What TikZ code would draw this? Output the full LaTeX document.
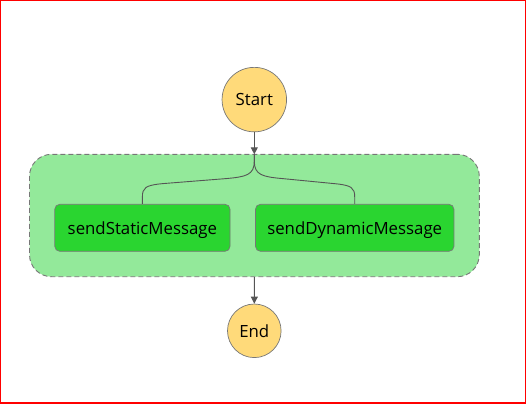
\documentclass[tikz,border=0pt]{standalone}
\usepackage{fontspec}
\setmainfont{Open Sans}
\usetikzlibrary{arrows.meta}
\definecolor{startfill}{HTML}{FFDA7A}
\definecolor{groupfill}{HTML}{93E99A}
\definecolor{taskfill}{HTML}{2AD530}
\definecolor{edgegray}{HTML}{555555}
\definecolor{bordergray}{HTML}{777777}
\tikzset{
  terminal/.style={circle, draw=bordergray, line width=0.7pt, fill=startfill, inner sep=0pt, font=\fontsize{16.8}{20}\selectfont},
  taskbox/.style={rectangle, rounded corners=5pt, draw=bordergray, line width=0.7pt, fill=taskfill, inner sep=0pt, text depth=0pt, minimum height=47pt, font=\fontsize{16.8}{20}\selectfont},
  groupbox/.style={rectangle, rounded corners=22pt, draw=bordergray, dash pattern=on 5pt off 3pt, line width=0.9pt, fill=groupfill, inner sep=0pt},
  flow/.style={draw=edgegray, line width=0.9pt},
  flowarrow/.style={flow, -{Triangle[length=7pt,width=7pt]}}
}
\begin{document}
\begin{tikzpicture}[x=1pt,y=-1pt]
\useasboundingbox (0,0) rectangle (527,404);
\draw[red, line width=1.4pt] (0.7,0.7) rectangle (525.7,403);
\node[groupbox, minimum width=449.8pt, minimum height=122.4pt] (grp) at (254.4,215.5) {};
\node[terminal, minimum size=64.5pt] (start) at (254.3,99.6) {Start};
\node[terminal, minimum size=53.6pt] (end) at (254.3,330.8) {End};
\node[taskbox, minimum width=175.3pt] (t1) at (142.4,227.8) {sendStaticMessage};
\node[taskbox, minimum width=198.5pt] (t2) at (354.7,227.8) {sendDynamicMessage};
\coordinate (fork) at (254.3,154.3);
\draw[flowarrow] (start.south) -- (fork);
\draw[flowarrow] (grp.south) -- (end.north);
\draw[flow] (fork) -- ++(0,7) .. controls (254.3,175) and (246,176.8) .. (226,178.6) -- (163,183.6) .. controls (145,185.2) and (142.4,188) .. (142.4,197) -- (t1.north);
\draw[flow] (fork) -- ++(0,7) .. controls (254.3,175) and (262.6,176.8) .. (282.6,178.6) -- (334,183.6) .. controls (352,185.2) and (354.7,188) .. (354.7,197) -- (t2.north);
\end{tikzpicture}
\end{document}
